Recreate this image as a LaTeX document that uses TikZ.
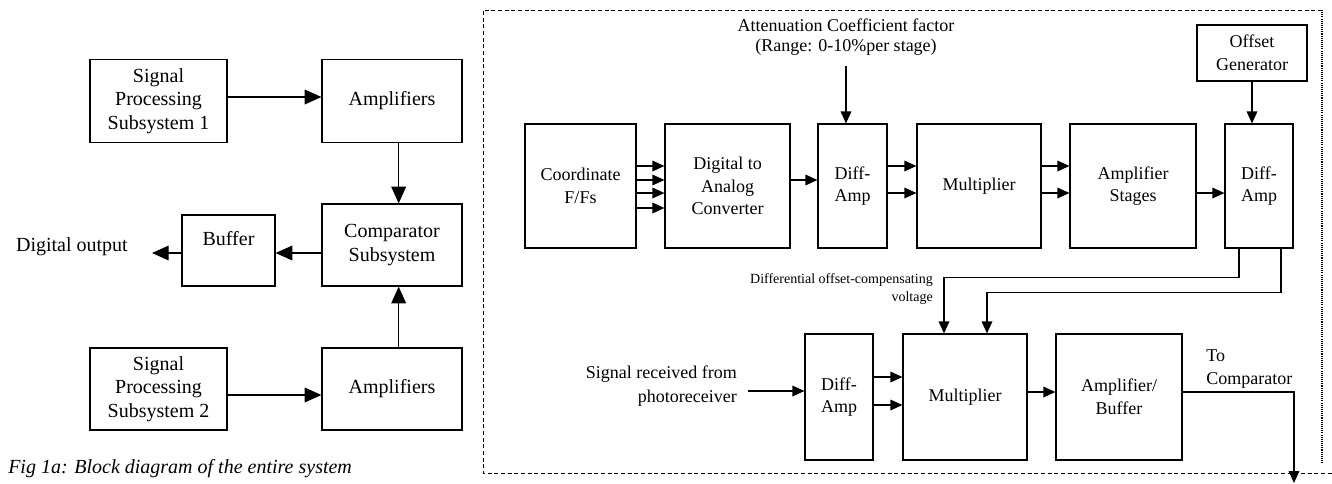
\documentclass[tikz,border=0pt]{standalone}
\usepackage{fontspec}
\setmainfont{Liberation Serif}
\usetikzlibrary{shapes, arrows.meta, positioning, calc}

\tikzset{
  blk/.style={draw, line width=0.9pt, align=center, inner sep=0pt, font=\fontsize{13.5}{17}\selectfont},
  lblk/.style={blk, font=\fontsize{15}{17.5}\selectfont},
  txt/.style={inner sep=0pt, font=\fontsize{13.5}{17}\selectfont},
  barr/.style={line width=0.9pt, -{Triangle[length=12.5pt,width=11pt]}},
  sarr/.style={line width=0.9pt, -{Triangle[length=9pt,width=8pt]}},
}

\begin{document}
\begin{tikzpicture}[x=0.75pt,y=0.75pt,yscale=-1,xscale=1]
\useasboundingbox (0,0) rectangle (1332,483);

% Fig 1a: entire system
\node [lblk, minimum width=102.75pt, minimum height=62.25pt] (sps1) at (158.5,101) {Signal\\Processing\\Subsystem 1};
\node [lblk, minimum width=105pt, minimum height=62.25pt] (ampT) at (392,101) {Amplifiers};
\node [lblk, minimum width=105pt, minimum height=61.5pt] (comp) at (392,245) {Comparator\\Subsystem};
\node [lblk, minimum width=69.75pt, minimum height=53.25pt] (buf) at (228.5,250.5) {Buffer\\\mbox{}};
\node [lblk, minimum width=102.75pt, minimum height=61.5pt] (sps2) at (158.5,389) {Signal\\Processing\\Subsystem 2};
\node [lblk, minimum width=105pt, minimum height=61.5pt] (ampB) at (392,389) {Amplifiers};
\node [txt, anchor=east, font=\fontsize{15}{17}\selectfont] (dtxt) at (128,247) {Digital output};
\coordinate (dout) at (152,253);

% (yscale=-1: a positive yshift moves down)
\draw [barr] ([yshift=-3pt]sps1.east) -- ([yshift=-3pt]sps1.east -| ampT.west);
\draw [barr] ([yshift=4.5pt]sps2.east) -- ([yshift=4.5pt]sps2.east -| ampB.west);
\draw [barr] ([xshift=5pt]ampT.south) -- ([xshift=5pt]comp.north);
\draw [barr] ([xshift=5pt]ampB.north) -- ([xshift=5pt]comp.south);
\draw [barr] ([yshift=6pt]comp.west) -- ([yshift=6pt]comp.west -| buf.east);
\draw [barr] ([yshift=6pt]comp.west -| buf.west) -- (dout);

% caption
\node [anchor=west, inner sep=0pt, font=\fontsize{15}{17}\selectfont\itshape] (cap) at (8,469) {Fig 1a: Block diagram of the entire system};

% frame of the detail
\draw [line width=0.6pt, dash pattern=on 3pt off 2pt] (1322,10) -- (483,10) -- (483,473) -- (1332,473);
\draw [line width=0.9pt, dash pattern=on 0.8pt off 0.8pt] (1322,10) -- (1322,463);

% upper chain
\node [blk, minimum width=83.25pt, minimum height=93pt] (ffs) at (580.5,186) {Coordinate\\F/Fs};
\node [blk, minimum width=93.75pt, minimum height=93pt] (dac) at (727.5,186) {Digital to\\Analog\\Converter};
\node [blk, minimum width=51.75pt, minimum height=93pt] (da1) at (852.5,186) {Diff-\\Amp};
\node [blk, minimum width=93pt, minimum height=93pt] (mul1) at (979,186) {Multiplier};
\node [blk, minimum width=94.5pt, minimum height=93pt] (ast) at (1133,186) {Amplifier\\Stages};
\node [blk, minimum width=51pt, minimum height=93pt] (da2) at (1259,186) {Diff-\\Amp};
\node [blk, minimum width=82.5pt, minimum height=42pt] (og) at (1252,53) {Offset\\Generator};
\node [txt, align=center, font=\fontsize{13.5}{15}\selectfont] (att) at (846,37) {Attenuation Coefficient factor\\(Range: 0-10\%per stage)};

\foreach \dy in {-15,-4.5,5.25,16.5}
  \draw [sarr] ([yshift=\dy pt]ffs.east) -- ([yshift=\dy pt]ffs.east -| dac.west);
\draw [sarr] ([yshift=-4.5pt]dac.east) -- ([yshift=-4.5pt]dac.east -| da1.west);
\foreach \dy in {-15,5.25} {
  \draw [sarr] ([yshift=\dy pt]da1.east) -- ([yshift=\dy pt]da1.east -| mul1.west);
  \draw [sarr] ([yshift=\dy pt]mul1.east) -- ([yshift=\dy pt]mul1.east -| ast.west);
}
\draw [sarr] ([yshift=5.25pt]ast.east) -- ([yshift=5.25pt]ast.east -| da2.west);
\draw [sarr] ([yshift=8pt]att.south) -- (att.south |- da1.north);
\draw [sarr] (og.south) -- (og.south |- da2.north);

% lower chain
\node [blk, minimum width=51pt, minimum height=94.5pt] (da3) at (839,397) {Diff-\\Amp};
\node [blk, minimum width=93pt, minimum height=94.5pt] (mul2) at (965,397) {Multiplier};
\node [blk, minimum width=94.5pt, minimum height=94.5pt] (abuf) at (1119,397) {Amplifier/\\Buffer};
\node [txt, anchor=east, align=right, font=\fontsize{13.5}{18}\selectfont] (sig) at (737,386) {Signal received from\\photoreceiver};
\node [txt, anchor=east, align=right, font=\fontsize{10.5}{13.5}\selectfont] (dov) at (933,289) {Differential offset-compensating\\voltage};
\node [txt, anchor=west, align=left] (tocmp) at (1206,369) {To\\Comparator};
\coordinate (out) at (1294,483);

\draw [sarr] ([xshift=-15pt]da2.south) -- ++(0,29) -| ([xshift=-15.75pt]mul2.north);
\draw [sarr] ([xshift=16.5pt]da2.south) -- ++(0,44) -| ([xshift=16.5pt]mul2.north);
\draw [sarr] ($(sig.east)+(11,5)$) -- ([yshift=-4.5pt]da3.west);
\foreach \dy in {-15,6}
  \draw [sarr] ([yshift=\dy pt]da3.east) -- ([yshift=\dy pt]da3.east -| mul2.west);
\draw [sarr] ([yshift=-3.75pt]mul2.east) -- ([yshift=-3.75pt]mul2.east -| abuf.west);
\draw [sarr] ([yshift=-3.75pt]abuf.east) -| (out);

\end{tikzpicture}
\end{document}
